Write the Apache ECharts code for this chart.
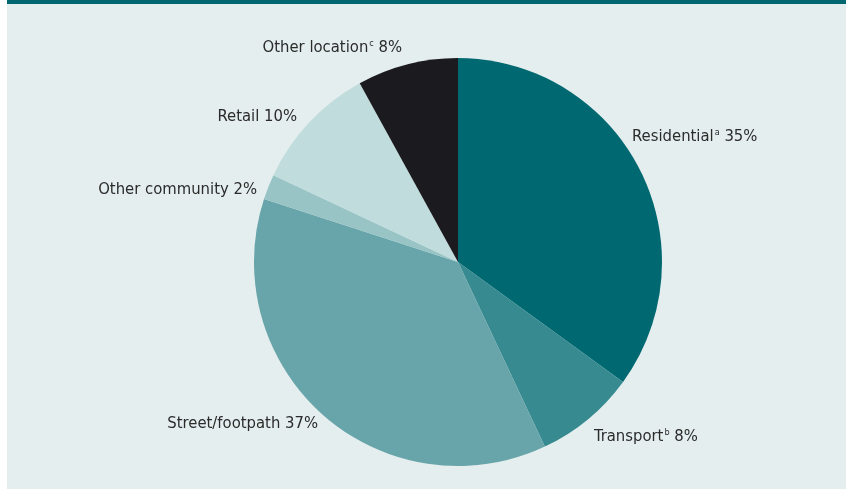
<!DOCTYPE html>
<html>
<head>
<meta charset="utf-8">
<script src="https://cdn.jsdelivr.net/npm/echarts@6/dist/echarts.min.js"></script>
<style>
  html, body { margin: 0; padding: 0; background: #ffffff; }
  #chart { width: 846px; height: 489px; }
</style>
</head>
<body>
<div id="chart"></div>
<script>
// slices, clockwise from 12 o'clock
const categories = ['Residential', 'Transport', 'Street/footpath', 'Other community', 'Retail', 'Other location']
const notes = ['a', 'b', '', '', '', 'c']
const shares = [35, 8, 37, 2, 10, 8]
const colors = ['#006870', '#368a90', '#68a5aa', '#98c4c6', '#c1dcdc', '#1b1a1e']

// label anchor per slice: [x, y, align]
const labelPos = [
  [632, 137, 'left'],
  [594, 437, 'left'],
  [318, 424, 'right'],
  [257, 190, 'right'],
  [297, 117, 'right'],
  [402, 48, 'right']
]

const labelFont = '"Liberation Sans Narrow", "DejaVu Sans Condensed", sans-serif'

const chart = echarts.init(document.getElementById('chart'))

const option = {
  animation: false,
  graphic: [
    { type: 'rect', z: -10, shape: { x: 7, y: 0, width: 839, height: 489 }, style: { fill: '#e5eeee' } },
    { type: 'rect', z: -9, shape: { x: 7, y: 0, width: 839, height: 4 }, style: { fill: '#006670' } }
  ],
  series: [
    {
      type: 'pie',
      center: [458, 262],
      radius: 204,
      startAngle: 90,
      clockwise: true,
      silent: true,
      data: categories.map((c, i) => ({
        name: c,
        value: shares[i],
        itemStyle: { color: colors[i] }
      })),
      label: {
        show: true,
        position: 'outside',
        fontFamily: labelFont,
        fontSize: 16.5,
        color: '#2b2b2b',
        formatter: function (p) {
          const n = notes[p.dataIndex]
          return n ? p.name + '{sup|' + n + '} ' + p.value + '%' : p.name + ' ' + p.value + '%'
        },
        rich: {
          sup: {
            fontFamily: labelFont,
            fontSize: 9,
            color: '#2b2b2b',
            verticalAlign: 'top',
            padding: [0, 0, 8, 1]
          }
        }
      },
      labelLine: { show: false },
      labelLayout: function (params) {
        const p = labelPos[params.dataIndex]
        return { x: p[0], y: p[1], align: p[2], verticalAlign: 'middle' }
      }
    }
  ]
}

chart.setOption(option)
</script>
</body>
</html>
